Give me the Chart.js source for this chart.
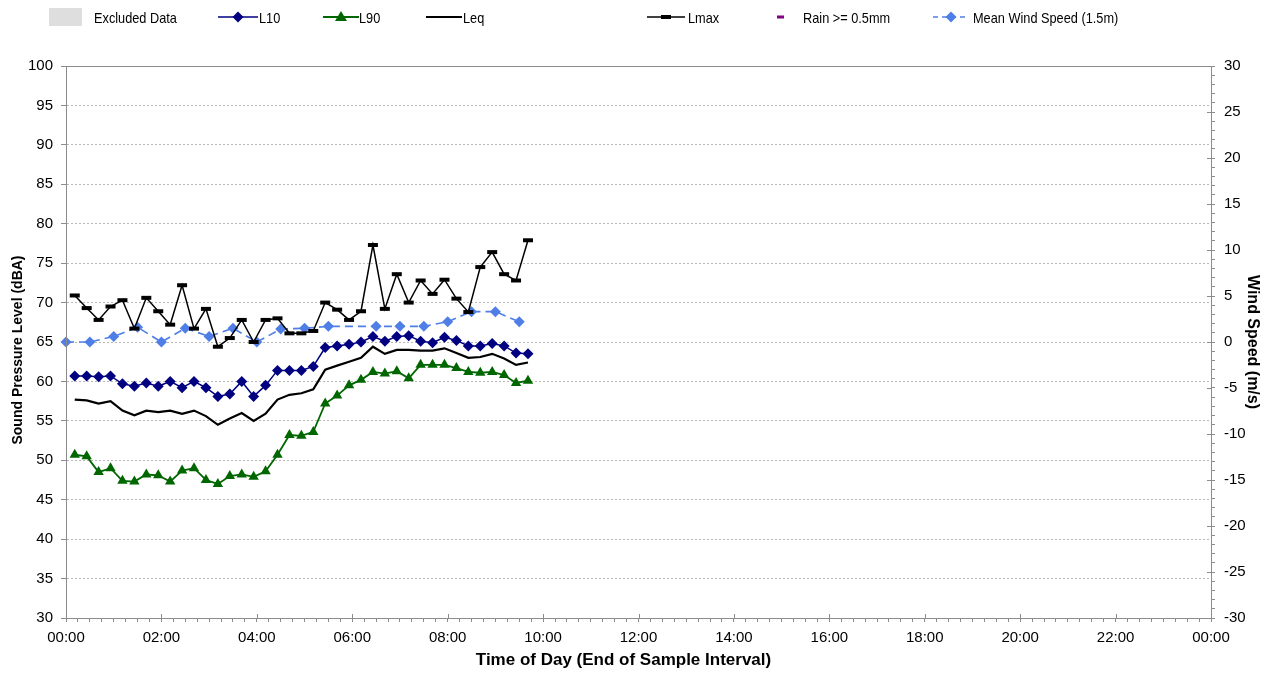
<!DOCTYPE html>
<html>
<head>
<meta charset="utf-8">
<script src="https://cdn.jsdelivr.net/npm/chart.js@4.4.1/dist/chart.umd.min.js"></script>
<style>
  html, body { margin: 0; padding: 0; background: #fff; }
  #wrap { position: relative; width: 1274px; height: 673px; }
  #legend { position: absolute; left: 0; top: 0; width: 1274px; height: 36px;
            font-family: "Liberation Sans", Arial, sans-serif; font-size: 15px; color: #000; }
  .lg { position: absolute; top: 8px; height: 18px; line-height: 18px; white-space: nowrap; }
  .lg svg { position: absolute; top: 0; }
  .lg span { position: absolute; top: 1px; transform: scaleX(0.85); transform-origin: 0 50%; }
</style>
</head>
<body>
<div id="wrap">
  <canvas id="chart" width="1274" height="673"></canvas>
  <div id="legend"></div>
</div>
<script>
// ---- data ----
const levelTimes = ['00:11','00:26','00:41','00:56','01:11','01:26','01:41','01:56','02:11','02:26',
  '02:41','02:56','03:11','03:26','03:41','03:56','04:11','04:26','04:41','04:56',
  '05:11','05:26','05:41','05:56','06:11','06:26','06:41','06:56','07:11','07:26',
  '07:41','07:56','08:11','08:26','08:41','08:56','09:11','09:26','09:41'];

const l10 = [60.7, 60.7, 60.6, 60.7, 59.7, 59.4, 59.8, 59.4, 60.0, 59.2,
  60.0, 59.2, 58.1, 58.4, 60.0, 58.1, 59.5, 61.4, 61.4, 61.4,
  61.9, 64.3, 64.5, 64.7, 65.0, 65.7, 65.1, 65.7, 65.8, 65.1,
  64.9, 65.6, 65.2, 64.5, 64.5, 64.8, 64.5, 63.6, 63.5];

const l90 = [50.7, 50.5, 48.5, 49.0, 47.4, 47.3, 48.2, 48.1, 47.3, 48.7,
  49.0, 47.5, 47.0, 48.0, 48.2, 47.9, 48.6, 50.7, 53.2, 53.1,
  53.6, 57.2, 58.2, 59.5, 60.2, 61.2, 61.0, 61.3, 60.4, 62.1,
  62.1, 62.1, 61.7, 61.2, 61.1, 61.2, 60.8, 59.8, 60.1];

const leq = [57.7, 57.6, 57.2, 57.5, 56.3, 55.7, 56.3, 56.1, 56.3, 55.9,
  56.3, 55.6, 54.5, 55.3, 56.0, 55.0, 55.9, 57.7, 58.3, 58.5,
  59.0, 61.5, 62.0, 62.5, 63.0, 64.4, 63.5, 64.0, 64.0, 63.9,
  63.9, 64.2, 63.6, 63.0, 63.1, 63.5, 62.9, 62.1, 62.4];

const lmax = [70.9, 69.3, 67.8, 69.5, 70.3, 66.7, 70.6, 68.9, 67.2, 72.2,
  66.7, 69.2, 64.4, 65.5, 67.8, 65.0, 67.8, 68.0, 66.1, 66.1,
  66.4, 70.0, 69.1, 67.8, 68.9, 77.3, 69.2, 73.6, 70.0, 72.8,
  71.1, 72.9, 70.5, 68.8, 74.5, 76.4, 73.6, 72.8, 77.9];

const windTimes = ['00:00','00:30','01:00','01:30','02:00','02:30','03:00','03:30','04:00','04:30',
  '05:00','05:30','06:00','06:30','07:00','07:30','08:00','08:30','09:00','09:30'];
const windSpeed = [0.0, 0.0, 0.6, 1.6, 0.0, 1.5, 0.6, 1.5, 0.0, 1.4,
  1.5, 1.7, null, 1.7, 1.7, 1.7, 2.2, 3.3, 3.3, 2.2];

const xTickLabels = ['00:00','02:00','04:00','06:00','08:00','10:00','12:00','14:00','16:00','18:00','20:00','22:00','00:00'];

// ---- helpers ----
const toMin = t => { const [h, m] = t.split(':').map(Number); return h * 60 + m; };
const pairs = (times, vals) => times.map((t, i) => ({ x: toMin(t), y: vals[i] }));

const FONT = '"Liberation Sans", Arial, sans-serif';
const AXIS_GREY = '#8c8c8c';
const X_TITLE = 'Time of Day (End of Sample Interval)';
const Y_TITLE = 'Sound Pressure Level (dBA)';

// plot frame, major ticks that cross the axis line, and the two titles that sit off-centre
const framePlugin = {
    id: 'frame',
    afterDraw(chart) {
        const { ctx, chartArea: a, scales } = chart;
        ctx.save();
        ctx.strokeStyle = AXIS_GREY;
        ctx.lineWidth = 1;
        ctx.strokeRect(Math.round(a.left) + 0.5, Math.round(a.top) + 0.5,
            Math.round(a.right - a.left), Math.round(a.bottom - a.top));
        ctx.beginPath();
        scales.x.ticks.forEach(t => {
            if (t.value % 120 !== 0) return;
            const px = Math.round(scales.x.getPixelForValue(t.value)) + 0.5;
            ctx.moveTo(px, a.bottom - 4); ctx.lineTo(px, a.bottom);
        });
        scales.y1.ticks.forEach(t => {
            if (t.value % 5 !== 0) return;
            const py = Math.round(scales.y1.getPixelForValue(t.value)) + 0.5;
            ctx.moveTo(a.right - 4, py); ctx.lineTo(a.right, py);
        });
        ctx.stroke();

        ctx.fillStyle = '#000';
        ctx.textAlign = 'center';
        ctx.textBaseline = 'middle';
        ctx.font = 'bold 17px ' + FONT;
        ctx.fillText(X_TITLE, (a.left + a.right) / 2 - 15, 660);

        ctx.font = 'bold 14px ' + FONT;
        ctx.translate(18, 350);
        ctx.rotate(-Math.PI / 2);
        ctx.fillText(Y_TITLE, 0, 0);
        ctx.restore();
    }
};

new Chart(document.getElementById('chart'), {
    type: 'line',
    data: {
        datasets: [
            {
                label: 'L10', data: pairs(levelTimes, l10), yAxisID: 'y',
                borderColor: '#000080', backgroundColor: '#000080', borderWidth: 1.5,
                pointStyle: 'rectRot', pointRadius: 5.5, pointBorderWidth: 0, tension: 0
            },
            {
                label: 'L90', data: pairs(levelTimes, l90), yAxisID: 'y',
                borderColor: '#006600', backgroundColor: '#006600', borderWidth: 1.8,
                pointStyle: 'triangle', pointRadius: 6, pointBorderWidth: 0, tension: 0
            },
            {
                label: 'Leq', data: pairs(levelTimes, leq), yAxisID: 'y',
                borderColor: '#000', backgroundColor: '#000', borderWidth: 2.2,
                pointRadius: 0, tension: 0
            },
            {
                label: 'Lmax', data: pairs(levelTimes, lmax), yAxisID: 'y',
                borderColor: '#000', backgroundColor: '#000', borderWidth: 1.5,
                pointStyle: 'line', pointRadius: 5, pointBorderWidth: 4, tension: 0
            },
            {
                label: 'Mean Wind Speed (1.5m)', data: pairs(windTimes, windSpeed), yAxisID: 'y1',
                borderColor: '#4f7fe6', backgroundColor: '#4f7fe6', borderWidth: 1.6, borderDash: [8, 5],
                pointStyle: 'rectRot', pointRadius: 5.5, pointBorderWidth: 0, spanGaps: true, tension: 0,
                clip: 8
            }
        ]
    },
    options: {
        responsive: false,
        animation: false,
        layout: { padding: { top: 66, left: 0, right: 0, bottom: 0 } },
        plugins: { legend: { display: false }, tooltip: { enabled: false } },
        scales: {
            x: {
                type: 'linear', min: 0, max: 1440,
                afterFit: s => { s.height = 55; },
                ticks: {
                    stepSize: 15, autoSkip: false, maxRotation: 0, padding: 7,
                    color: '#000', font: { family: FONT, size: 15 },
                    callback: v => (v % 120 === 0 ? xTickLabels[v / 120] : '')
                },
                grid: { drawOnChartArea: false, tickLength: 4, tickColor: AXIS_GREY },
                border: { color: AXIS_GREY },
                title: { display: false }
            },
            y: {
                position: 'left', min: 30, max: 100,
                afterFit: s => { s.width = 66; },
                ticks: { stepSize: 5, color: '#000', padding: 8, font: { family: FONT, size: 15 } },
                grid: {
                    color: c => (c.tick && (c.tick.value === 100 || c.tick.value === 30) ? 'rgba(0,0,0,0)' : '#b8b8b8'),
                    tickColor: AXIS_GREY, tickLength: 5, lineWidth: 1
                },
                border: { color: AXIS_GREY, dash: [2, 2] },
                title: { display: false }
            },
            y1: {
                position: 'right', min: -30, max: 30,
                afterFit: s => { s.width = 63; },
                ticks: {
                    stepSize: 1, autoSkip: false, color: '#000', padding: 9, font: { family: FONT, size: 15 },
                    callback: v => (v % 5 === 0 ? String(v) : '')
                },
                grid: { drawOnChartArea: false, tickLength: 4, tickColor: AXIS_GREY },
                border: { color: AXIS_GREY },
                title: {
                    display: true, text: 'Wind Speed (m/s)', color: '#000',
                    font: { family: FONT, size: 16, weight: 'bold' }, padding: { top: 12, bottom: 0 }
                }
            }
        }
    },
    plugins: [framePlugin]
});

// ---- legend (HTML) ----
const legendItems = [
    { name: 'Excluded Data', x: 49, textX: 94, sym: '<rect x="0" y="0" width="33" height="18" fill="#dedede"/>', w: 33 },
    { name: 'L10', x: 218, textX: 259, w: 40, sym: '<line x1="0" y1="9" x2="40" y2="9" stroke="#000080" stroke-width="1.5"/><polygon points="20,3.5 25.5,9 20,14.5 14.5,9" fill="#000080"/>' },
    { name: 'L90', x: 323, textX: 359, w: 36, sym: '<line x1="0" y1="9" x2="36" y2="9" stroke="#006600" stroke-width="1.8"/><polygon points="18,3 24,13 12,13" fill="#006600"/>' },
    { name: 'Leq', x: 426, textX: 463, w: 36, sym: '<line x1="0" y1="9" x2="36" y2="9" stroke="#000" stroke-width="2.2"/>' },
    { name: 'Lmax', x: 647, textX: 688, w: 38, sym: '<line x1="0" y1="9" x2="38" y2="9" stroke="#000" stroke-width="1.5"/><line x1="14" y1="9" x2="24" y2="9" stroke="#000" stroke-width="4"/>' },
    { name: 'Rain >= 0.5mm', x: 777, textX: 803, w: 8, sym: '<line x1="0" y1="9" x2="7" y2="9" stroke="#800080" stroke-width="3"/>' },
    { name: 'Mean Wind Speed (1.5m)', x: 933, textX: 973, w: 36, sym: '<line x1="0" y1="9" x2="36" y2="9" stroke="#4f7fe6" stroke-width="1.6" stroke-dasharray="5,4"/><polygon points="18,3.5 23.5,9 18,14.5 12.5,9" fill="#4f7fe6"/>' }
];
document.getElementById('legend').innerHTML = legendItems.map(it => `
    <div class="lg" style="left:${it.x}px">
        <svg width="${it.w}" height="18" style="left:0">${it.sym}</svg>
        <span style="left:${it.textX - it.x}px">${it.name.replace('>', '&gt;')}</span>
    </div>`).join('');
</script>
</body>
</html>
